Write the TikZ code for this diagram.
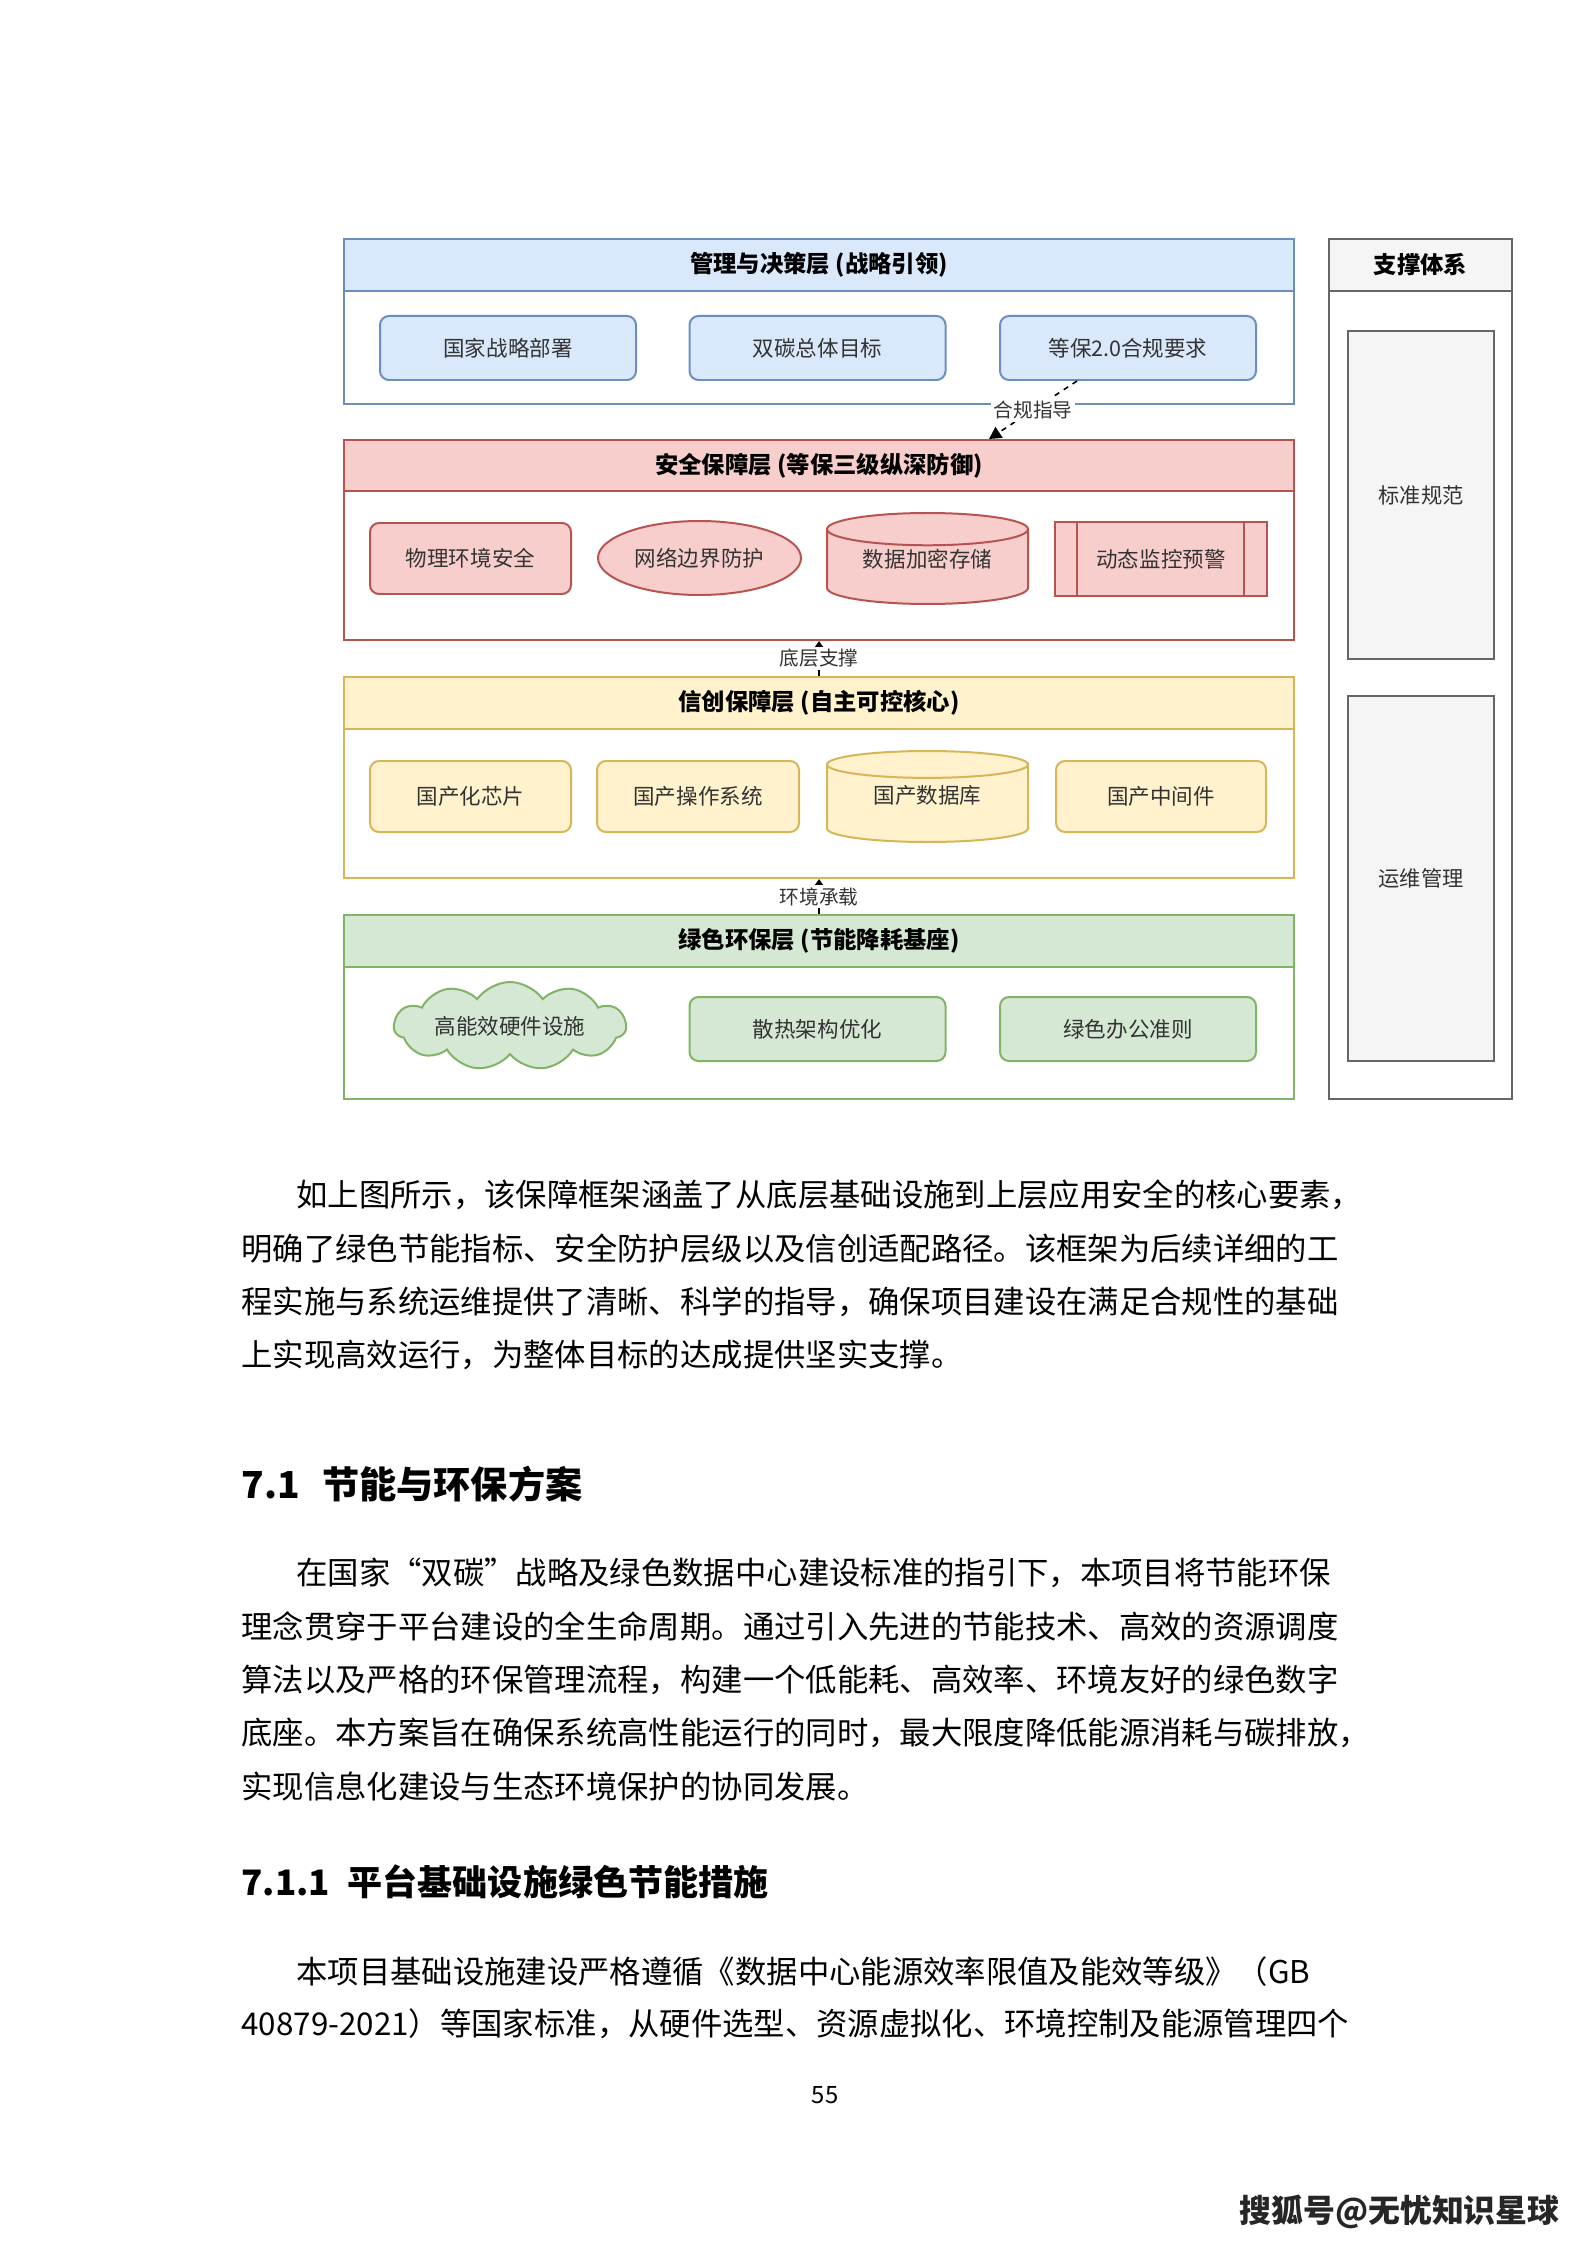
\documentclass[tikz,border=0pt]{standalone}
\usepackage{fontspec}
\setmainfont{Noto Sans CJK SC}
\usepackage{xcolor}
\usetikzlibrary{shapes.geometric, shapes.symbols, arrows.meta, positioning, calc}
\newlength\pxu
\setlength\pxu{0.13233mm}
\definecolor{lineBlue}{HTML}{6C8EBF}
\definecolor{fillBlue}{HTML}{DAE8FC}
\definecolor{lineRed}{HTML}{B85450}
\definecolor{fillRed}{HTML}{F8CECC}
\definecolor{lineYellow}{HTML}{D6B656}
\definecolor{fillYellow}{HTML}{FFF2CC}
\definecolor{lineGreen}{HTML}{82B366}
\definecolor{fillGreen}{HTML}{D5E8D4}
\definecolor{lineGray}{HTML}{666666}
\definecolor{fillGray}{HTML}{F5F5F5}
\definecolor{txtGray}{HTML}{333333}
\newcommand\drumtext[1]{\raisebox{0\pxu}[0pt][0pt]{#1}}
\tikzset{
  fw/layer/.style={rectangle, draw=line#1, fill=white, line width=0.75pt,
    minimum width=950\pxu, inner sep=0pt},
  fw/head/.style={rectangle, draw=line#1, fill=fill#1, line width=0.75pt,
    minimum width=950\pxu, minimum height=52\pxu, inner sep=0pt,
    font=\fontsize{8.8}{10}\selectfont\bfseries, text=black},
  fw/box/.style={rectangle, rounded corners=9\pxu, draw=line#1, fill=fill#1,
    line width=0.75pt, minimum width=256\pxu, minimum height=64\pxu,
    inner sep=0pt, font=\fontsize{8.1}{9.5}\selectfont, text=txtGray},
  fw/oval/.style={ellipse, draw=line#1, fill=fill#1, line width=0.75pt,
    minimum width=203\pxu, minimum height=74\pxu, inner sep=0pt,
    font=\fontsize{8.1}{9.5}\selectfont, text=txtGray},
  fw/drum/.style={cylinder, shape border rotate=90, aspect=0.25,
    anchor=shape center,
    draw=line#1, fill=fill#1, line width=0.75pt,
    minimum width=201\pxu, minimum height=91\pxu, inner sep=0pt,
    font=\fontsize{8.1}{9.5}\selectfont, text=txtGray},
  fw/proc/.style={rectangle, draw=line#1, fill=fill#1, line width=0.75pt,
    minimum width=212\pxu, minimum height=74\pxu, inner sep=0pt,
    font=\fontsize{8.1}{9.5}\selectfont, text=txtGray},
  fw/puff/.style={cloud, cloud puffs=11, cloud puff arc=110, aspect=3.6,
    draw=line#1, fill=fill#1, line width=0.75pt,
    minimum width=232\pxu, minimum height=64\pxu, inner sep=0pt,
    font=\fontsize{8.1}{9.5}\selectfont, text=txtGray},
  fw/side/.style={rectangle, draw=lineGray, fill=fillGray, line width=0.75pt,
    minimum width=146\pxu, inner sep=0pt,
    font=\fontsize{8}{9.5}\selectfont, text=txtGray},
  fw/arr/.style={-{Triangle[length=0.8mm, width=1.05mm]}, line width=0.6pt,
    draw=black},
  fw/dash/.style={-{Triangle[length=1.6mm, width=1.7mm]}, line width=0.6pt,
    draw=black, dash pattern=on 2pt off 2pt},
  fw/lbl/.style={font=\fontsize{7.4}{8.5}\selectfont, text=txtGray,
    fill=white, inner sep=1pt},
  fw/body/.style={anchor=west, inner sep=0pt,
    font=\fontsize{11.8}{14}\selectfont, text=black},
  fw/title/.style={anchor=west, inner sep=0pt,
    font=\fontsize{14}{16}\selectfont\bfseries, text=black},
  fw/subtitle/.style={anchor=west, inner sep=0pt,
    font=\fontsize{13.2}{15}\selectfont\bfseries, text=black}
}

\begin{document}
\begin{tikzpicture}[x=\pxu, y=-\pxu]
  \useasboundingbox (0,0) rectangle (1587,2245);
  \fill[white] (0,0) rectangle (1587,2245);

  % management layer
  \node[fw/layer=Blue, minimum height=165\pxu] (mgmt) at (819,321.5) {};
  \node[fw/head=Blue, anchor=north] (mgmtH) at (mgmt.north)
        {管理与决策层 (战略引领)};
  \node[fw/box=Blue] (natl) at (508,348) {国家战略部署};
  \node[fw/box=Blue] (carbon) at (817.5,348) {双碳总体目标};
  \node[fw/box=Blue] (comp) at (1128,348) {等保2.0合规要求};

  % security layer
  \node[fw/layer=Red, minimum height=200\pxu] (sec) at (819,540) {};
  \node[fw/head=Red, anchor=north, minimum height=51\pxu] (secH) at (sec.north)
        {安全保障层 (等保三级纵深防御)};
  \node[fw/box=Red, minimum width=201\pxu, minimum height=71\pxu] (phys)
        at (470.5,558.5) {物理环境安全};
  \node[fw/oval=Red] (net) at (699.5,558) {网络边界防护};
  \node[fw/drum=Red] (crypt) at (927.5,558.5) {\drumtext{数据加密存储}};
  \node[fw/proc=Red] (mon) at (1161,559) {动态监控预警};
  \draw[lineRed, line width=0.75pt] ($(mon.north west)+(23,0)$) -- ($(mon.south west)+(23,0)$);
  \draw[lineRed, line width=0.75pt] ($(mon.north east)+(-24,0)$) -- ($(mon.south east)+(-24,0)$);

  % xinchuang layer
  \node[fw/layer=Yellow, minimum height=201\pxu] (xc) at (819,777.5) {};
  \node[fw/head=Yellow, anchor=north] (xcH) at (xc.north)
        {信创保障层 (自主可控核心)};
  \node[fw/box=Yellow, minimum width=201\pxu, minimum height=71\pxu] (chip)
        at (470.5,796.5) {国产化芯片};
  \node[fw/box=Yellow, minimum width=202\pxu, minimum height=71\pxu] (os)
        at (698,796.5) {国产操作系统};
  \node[fw/drum=Yellow] (xcdb) at (927.5,796.5) {\drumtext{国产数据库}};
  \node[fw/box=Yellow, minimum width=210\pxu, minimum height=71\pxu] (mid)
        at (1161,796.5) {国产中间件};

  % green layer
  \node[fw/layer=Green, minimum height=184\pxu] (eco) at (819,1007) {};
  \node[fw/head=Green, anchor=north] (ecoH) at (eco.north)
        {绿色环保层 (节能降耗基座)};
  \node[fw/puff=Green] (hw) at (510,1026) {高能效硬件设施};
  \node[fw/box=Green] (cool) at (817.5,1029) {散热架构优化};
  \node[fw/box=Green] (office) at (1128,1029) {绿色办公准则};

  % support column
  \node[fw/layer=Gray, minimum width=183\pxu, minimum height=860\pxu] (sup)
        at (1420.5,669) {};
  \node[fw/head=Gray, anchor=north, minimum width=183\pxu, fill=fillGray]
        (supH) at (sup.north) {支撑体系};
  \node[fw/side, minimum height=328\pxu] (std) at (1421,495) {标准规范};
  \node[fw/side, minimum height=365\pxu] (ops) at (1421,878.5) {运维管理};

  % connectors
  \coordinate (compOut) at ($(comp.south)+(-51,0)$);
  \coordinate (secIn) at ($(sec.north)+(170,0)$);
  \draw[fw/dash] (compOut) -- node[fw/lbl]{合规指导} (secIn);
  \draw[fw/arr] (xc.north) -- node[fw/lbl]{底层支撑} (sec.south);
  \draw[fw/arr] (eco.north) -- node[fw/lbl]{环境承载} (xc.south);

  % page text
  \node[fw/body] (p1a) at (296,1195) {如上图所示，该保障框架涵盖了从底层基础设施到上层应用安全的核心要素，};
  \node[fw/body] (p1b) at (241,1249) {明确了绿色节能指标、安全防护层级以及信创适配路径。该框架为后续详细的工};
  \node[fw/body] (p1c) at (241,1302) {程实施与系统运维提供了清晰、科学的指导，确保项目建设在满足合规性的基础};
  \node[fw/body] (p1d) at (241,1355) {上实现高效运行，为整体目标的达成提供坚实支撑。};

  \node[fw/title] (h71) at (241,1484) {7.1\hspace{0.6em}节能与环保方案};

  \node[fw/body] (p2a) at (296,1573) {在国家“双碳”战略及绿色数据中心建设标准的指引下，本项目将节能环保};
  \node[fw/body] (p2b) at (241,1626) {理念贯穿于平台建设的全生命周期。通过引入先进的节能技术、高效的资源调度};
  \node[fw/body] (p2c) at (241,1680) {算法以及严格的环保管理流程，构建一个低能耗、高效率、环境友好的绿色数字};
  \node[fw/body] (p2d) at (241,1733) {底座。本方案旨在确保系统高性能运行的同时，最大限度降低能源消耗与碳排放，};
  \node[fw/body] (p2e) at (241,1786) {实现信息化建设与生态环境保护的协同发展。};

  \node[fw/subtitle] (h711) at (241,1882) {7.1.1\hspace{0.5em}平台基础设施绿色节能措施};

  \node[fw/body] (p3a) at (296,1972) {本项目基础设施建设严格遵循《数据中心能源效率限值及能效等级》（GB};
  \node[fw/body] (p3b) at (241,2024) {40879-2021）等国家标准，从硬件选型、资源虚拟化、环境控制及能源管理四个};

  \node[inner sep=0pt, font=\fontsize{9}{10}\selectfont] (pgno) at (825,2095) {55};
  \node[anchor=west, inner sep=0pt, font=\fontsize{12}{14}\selectfont\bfseries,
        text=black!85] (brand) at (1239,2212) {搜狐号@无忧知识星球};
\end{tikzpicture}
\end{document}
